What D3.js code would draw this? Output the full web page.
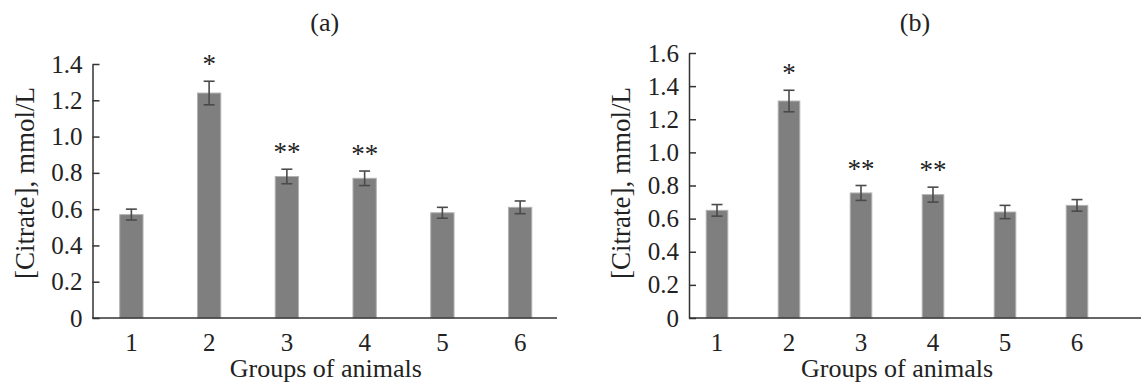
<!DOCTYPE html>
<html>
<head>
<meta charset="utf-8">
<script src="https://cdn.jsdelivr.net/npm/d3@7"></script>
<style>
  body { margin: 0; background: #fff; }
  text { font-family: "Liberation Serif", "Times New Roman", serif; fill: #222; }
</style>
</head>
<body>
<svg id="chart" width="1141" height="383"></svg>
<script>
// groups of animals, mean citrate (mmol/L) and error for both panels
var groups = ["1", "2", "3", "4", "5", "6"];
var citrateA = [0.57, 1.24, 0.78, 0.77, 0.58, 0.61];
var errA = [0.03, 0.065, 0.04, 0.04, 0.03, 0.035];
var citrateB = [0.65, 1.31, 0.755, 0.745, 0.64, 0.68];
var errB = [0.035, 0.065, 0.045, 0.045, 0.04, 0.035];
var marks = ["", "*", "**", "**", "", ""];
var ticksA = [0, 0.2, 0.4, 0.6, 0.8, 1.0, 1.2, 1.4];
var ticksB = [0, 0.2, 0.4, 0.6, 0.8, 1.0, 1.2, 1.4, 1.6];

var svg = d3.select('#chart');

var panels = [
  { title: "(a)", values: citrateA, errs: errA, ticks: ticksA,
    axisX: 92.5, axisEnd: 557, band: [92.5, 559], top: 64, bottom: 318 },
  { title: "(b)", values: citrateB, errs: errB, ticks: ticksB,
    axisX: 689, axisEnd: 1141, band: [681, 1113], top: 53, bottom: 318 }
];

panels.forEach(drawPanel);

function drawPanel(p) {
  var g = svg.append('g');
  var yMax = p.ticks[p.ticks.length - 1];

  var x = d3.scaleBand().domain(groups).range(p.band).paddingInner(0.7).paddingOuter(0.35);
  var y = d3.scaleLinear().domain([0, yMax]).range([p.bottom, p.top]);

  var data = groups.map(function(k, i) {
    return { group: k, v: p.values[i], e: p.errs[i], mark: marks[i] };
  });

  // bars
  g.append('g').selectAll('rect')
    .data(data)
    .enter().append('rect')
    .attr('x', function(d) { return x(d.group); })
    .attr('width', x.bandwidth())
    .attr('y', function(d) { return y(d.v); })
    .attr('height', function(d) { return y(0) - y(d.v); })
    .attr('fill', '#7f7f7f')
    .attr('stroke', '#b3b3b3')
    .attr('stroke-width', 1);

  // error bars
  var eb = g.append('g').selectAll('g')
    .data(data)
    .enter().append('g')
    .attr('stroke', '#4a4a4a')
    .attr('stroke-width', 1.6);
  var cx = function(d) { return x(d.group) + x.bandwidth() / 2; };
  eb.append('line')
    .attr('x1', cx).attr('x2', cx)
    .attr('y1', function(d) { return y(d.v + d.e); })
    .attr('y2', function(d) { return y(d.v - d.e); });
  eb.append('line')
    .attr('x1', function(d) { return cx(d) - 5.5; })
    .attr('x2', function(d) { return cx(d) + 5.5; })
    .attr('y1', function(d) { return y(d.v + d.e); })
    .attr('y2', function(d) { return y(d.v + d.e); });
  eb.append('line')
    .attr('x1', function(d) { return cx(d) - 5.5; })
    .attr('x2', function(d) { return cx(d) + 5.5; })
    .attr('y1', function(d) { return y(d.v - d.e); })
    .attr('y2', function(d) { return y(d.v - d.e); });

  // significance marks
  g.append('g').selectAll('text')
    .data(data.filter(function(d) { return d.mark; }))
    .enter().append('text')
    .attr('x', cx)
    .attr('y', function(d) { return y(d.v + d.e) - 8; })
    .attr('text-anchor', 'middle')
    .attr('font-size', '27px')
    .text(function(d) { return d.mark; });

  // y axis, ticks pointing inward
  var yAxis = g.append('g')
    .attr('transform', 'translate(' + p.axisX + ',0)')
    .call(d3.axisLeft(y).tickValues(p.ticks)
      .tickFormat(function(d) { return d === 0 ? "0" : d3.format(".1f")(d); })
      .tickSizeInner(-7).tickSizeOuter(0).tickPadding(10));
  yAxis.selectAll('path, line').attr('stroke', '#333').attr('stroke-width', 1.5);
  yAxis.selectAll('text').attr('font-size', '25px').attr('font-family', null).attr('fill', '#222');

  // x axis: plain line with category labels
  g.append('line')
    .attr('x1', p.axisX).attr('x2', p.axisEnd)
    .attr('y1', y(0)).attr('y2', y(0))
    .attr('stroke', '#333').attr('stroke-width', 1.5);
  var xAxis = g.append('g')
    .attr('transform', 'translate(0,' + y(0) + ')')
    .call(d3.axisBottom(x).tickSize(0).tickPadding(15));
  xAxis.select('.domain').remove();
  xAxis.selectAll('text').attr('font-size', '25px').attr('font-family', null).attr('fill', '#222');

  // titles
  g.append('text')
    .attr('x', (p.axisX + p.axisEnd) / 2)
    .attr('y', 31)
    .attr('text-anchor', 'middle')
    .attr('font-size', '26px')
    .text(p.title);

  g.append('text')
    .attr('x', (p.band[0] + p.band[1]) / 2)
    .attr('y', 377)
    .attr('text-anchor', 'middle')
    .attr('font-size', '26px')
    .text("Groups of animals");

  g.append('text')
    .attr('transform', 'translate(' + (p.axisX - 68) + ',' + 183 + ') rotate(-90)')
    .attr('text-anchor', 'middle')
    .attr('dominant-baseline', 'central')
    .attr('font-size', '27px')
    .text("[Citrate], mmol/L");
}
</script>
</body>
</html>
